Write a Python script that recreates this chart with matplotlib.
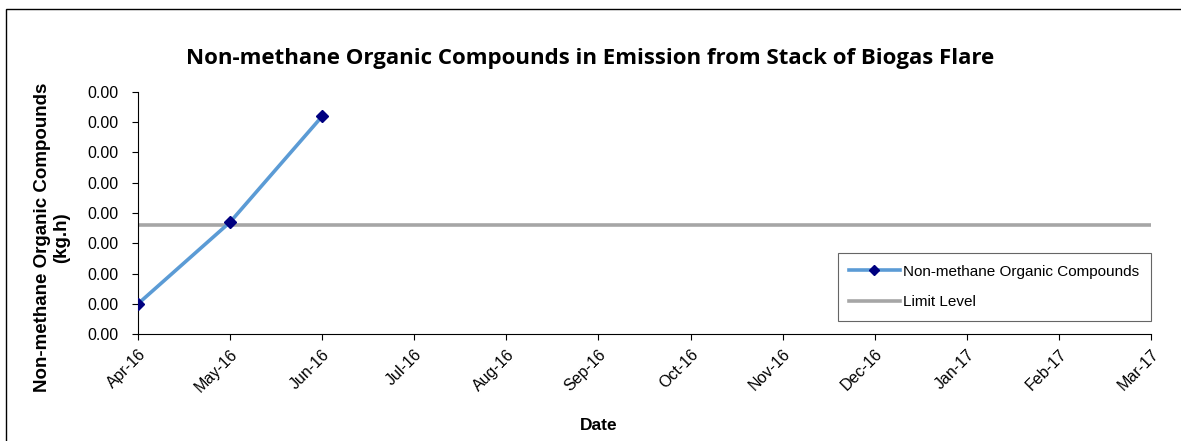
import matplotlib
matplotlib.use("Agg")
import matplotlib.pyplot as plt
from matplotlib.patches import Rectangle
from matplotlib.ticker import FormatStrFormatter

months = ["Apr-16", "May-16", "Jun-16", "Jul-16", "Aug-16", "Sep-16",
          "Oct-16", "Nov-16", "Dec-16", "Jan-17", "Feb-17", "Mar-17"]
nmoc = [0.00010, 0.00037, 0.00072]
limit = [0.00036] * len(months)
y_ticks = [i * 0.0001 for i in range(9)]

plt.rcParams['font.family'] = ['Liberation Sans', 'DejaVu Sans']

fig = plt.figure(figsize=(11.81, 4.41), dpi=100)
ax = fig.add_axes([0.1169, 0.2426, 0.8577, 0.5488])

x_all = list(range(len(months)))
ax.plot(x_all, limit, color="#A6A6A6", lw=2.6, label="Limit Level", zorder=2)
ax.plot(x_all[:len(nmoc)], nmoc, color="#5B9BD5", lw=2.6, marker="D",
        markersize=6.5, markerfacecolor="#000080", markeredgecolor="#000080",
        label="Non-methane Organic Compounds", zorder=3)

ax.set_xlim(0, len(months) - 1)
ax.set_ylim(0, 0.0008)
ax.set_xticks(x_all)
ax.set_xticklabels(months, rotation=45, ha="right", rotation_mode="anchor",
                   fontsize=11.5)
ax.set_yticks(y_ticks)
ax.yaxis.set_major_formatter(FormatStrFormatter('%.2f'))
ax.tick_params(axis='y', labelsize=11.5, length=4, pad=10)
ax.tick_params(axis='x', length=4, pad=5)
for s in ["top", "right"]:
    ax.spines[s].set_visible(False)

ax.set_xlabel("Date", fontsize=12.5, fontweight="bold")
ax.xaxis.set_label_coords(0.455, -0.345)
ax.set_ylabel("Non-methane Organic Compounds\n(kg.h)", fontsize=13.5,
              fontweight="bold")
ax.yaxis.set_label_coords(-0.067, 0.40)

handles, labels = ax.get_legend_handles_labels()
leg = ax.legend(handles[::-1], labels[::-1], loc="lower right",
                bbox_to_anchor=(1.0, 0.054), fontsize=11, frameon=True,
                fancybox=False, edgecolor="#404040", handlelength=3.3,
                borderpad=0.75, labelspacing=1.1, handletextpad=0.25,
                borderaxespad=0.0)
leg.get_frame().set_linewidth(0.8)
leg.legend_handles[0].set_markersize(5)

fig.text(0.5, 0.868, "Non-methane Organic Compounds in Emission from Stack of Biogas Flare",
         ha="center", va="center", fontsize=16, fontweight="bold",
         family=["Open Sans", "DejaVu Sans"])

fig.patches.append(Rectangle((6 / 1181, -0.1), 1.1, 1 - 9 / 441 + 0.1,
                             transform=fig.transFigure, fill=False,
                             edgecolor="black", lw=1.0))

fig.savefig("out.png", dpi=100)
